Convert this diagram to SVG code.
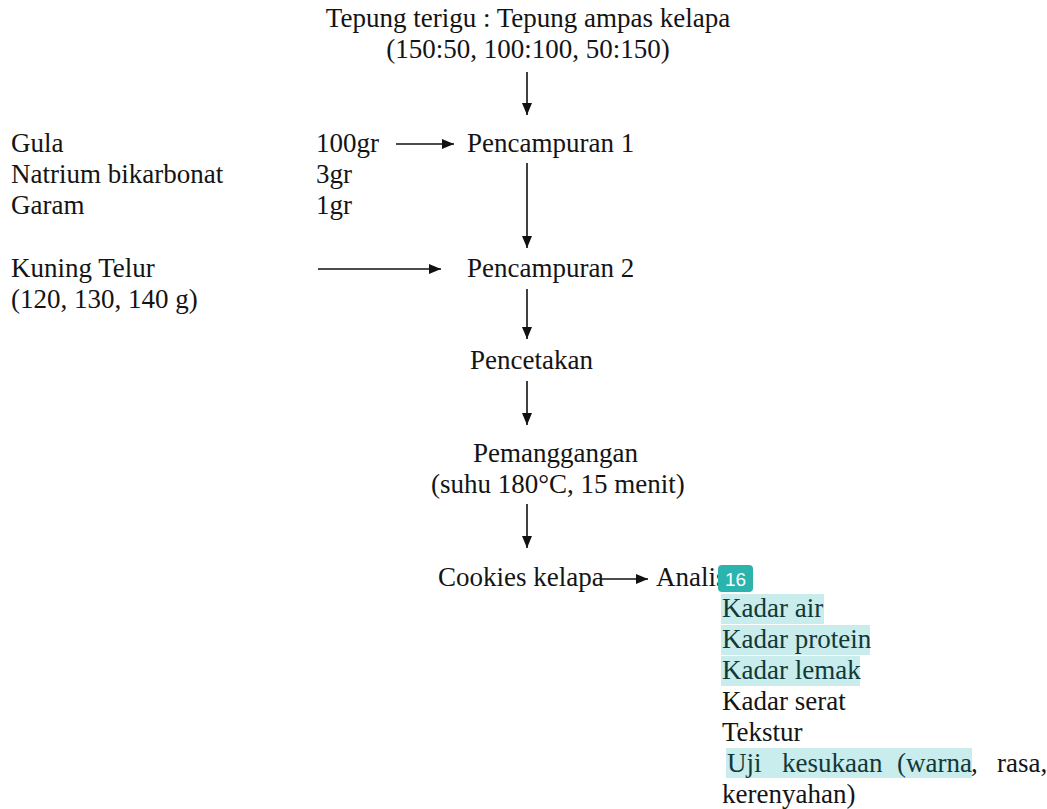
<svg xmlns="http://www.w3.org/2000/svg" width="1047" height="809" viewBox="0 0 1047 809">
<defs>
<marker id="ah" markerWidth="12" markerHeight="10" refX="12" refY="5" orient="auto" markerUnits="userSpaceOnUse">
<path d="M0,0 L12,5 L0,10 Z" fill="#111"/>
</marker>
<style>
text{font-family:"Liberation Serif","Times New Roman",serif;font-size:27px;fill:#141414}
.hl{fill:#c9ecec}
.ht{fill:#123838}
.c{stroke:#111;stroke-width:1.6;fill:none;marker-end:url(#ah)}
</style>
</defs>
<rect width="1047" height="809" fill="#fff"/>
<g id="connectors">
<line class="c" x1="527" y1="72" x2="527" y2="115"/>
<line class="c" x1="396" y1="144" x2="454" y2="144"/>
<line class="c" x1="527" y1="163" x2="527" y2="248"/>
<line class="c" x1="318" y1="269" x2="441" y2="269"/>
<line class="c" x1="527" y1="289" x2="527" y2="339"/>
<line class="c" x1="527" y1="381" x2="527" y2="425"/>
<line class="c" x1="527" y1="504" x2="527" y2="548"/>
<line class="c" x1="601" y1="579" x2="648" y2="579"/>
</g>
<g id="n-tepung" font-family="Liberation Serif, Times New Roman, serif">
<text x="528" y="27" text-anchor="middle">Tepung terigu : Tepung ampas kelapa</text>
<text x="528" y="58" text-anchor="middle">(150:50, 100:100, 50:150)</text>
</g>
<g id="n-bahan1" font-family="Liberation Serif, Times New Roman, serif">
<text x="11" y="152">Gula</text>
<text x="11" y="183">Natrium bikarbonat</text>
<text x="11" y="214">Garam</text>
<text x="316" y="152">100gr</text>
<text x="316" y="183">3gr</text>
<text x="316" y="214">1gr</text>
</g>
<g id="n-pencampuran1" font-family="Liberation Serif, Times New Roman, serif"><text x="467" y="152">Pencampuran 1</text></g>
<g id="n-kuning" font-family="Liberation Serif, Times New Roman, serif">
<text x="11" y="277">Kuning Telur</text>
<text x="11" y="308">(120, 130, 140 g)</text>
</g>
<g id="n-pencampuran2" font-family="Liberation Serif, Times New Roman, serif"><text x="467" y="277">Pencampuran 2</text></g>
<g id="n-pencetakan" font-family="Liberation Serif, Times New Roman, serif"><text x="470" y="369">Pencetakan</text></g>
<g id="n-pemanggangan" font-family="Liberation Serif, Times New Roman, serif">
<text x="473" y="462">Pemanggangan</text>
<text x="431" y="493">(suhu 180°C, 15 menit)</text>
</g>
<g id="n-cookies" font-family="Liberation Serif, Times New Roman, serif"><text x="438" y="586">Cookies kelapa</text></g>
<g id="n-analisa" font-family="Liberation Serif, Times New Roman, serif">
<text x="656" y="586">Analisa</text>
<rect class="hl" x="721" y="594" width="103" height="30"/>
<rect class="hl" x="721" y="625" width="149" height="30"/>
<rect class="hl" x="721" y="656" width="139" height="30"/>
<rect class="hl" x="726" y="748" width="246" height="30"/>
<text class="ht" x="722" y="617">Kadar air</text>
<text class="ht" x="722" y="648">Kadar protein</text>
<text class="ht" x="722" y="679">Kadar lemak</text>
<text x="722" y="710">Kadar serat</text>
<text x="722" y="741">Tekstur</text>
<text class="ht" x="727" y="772">Uji</text>
<text class="ht" x="782" y="772">kesukaan</text>
<text class="ht" x="897" y="772">(warna</text>
<text x="971" y="772">,</text>
<text x="997" y="772">rasa,</text>
<text x="722" y="803">kerenyahan)</text>
<rect x="718" y="565" width="35" height="27" rx="4" fill="#2bb3ad"/>
<text x="735.5" y="586" text-anchor="middle" style="font-family:'Liberation Sans',Arial,sans-serif;font-size:19px;fill:#fff">16</text>
</g>
</svg>
